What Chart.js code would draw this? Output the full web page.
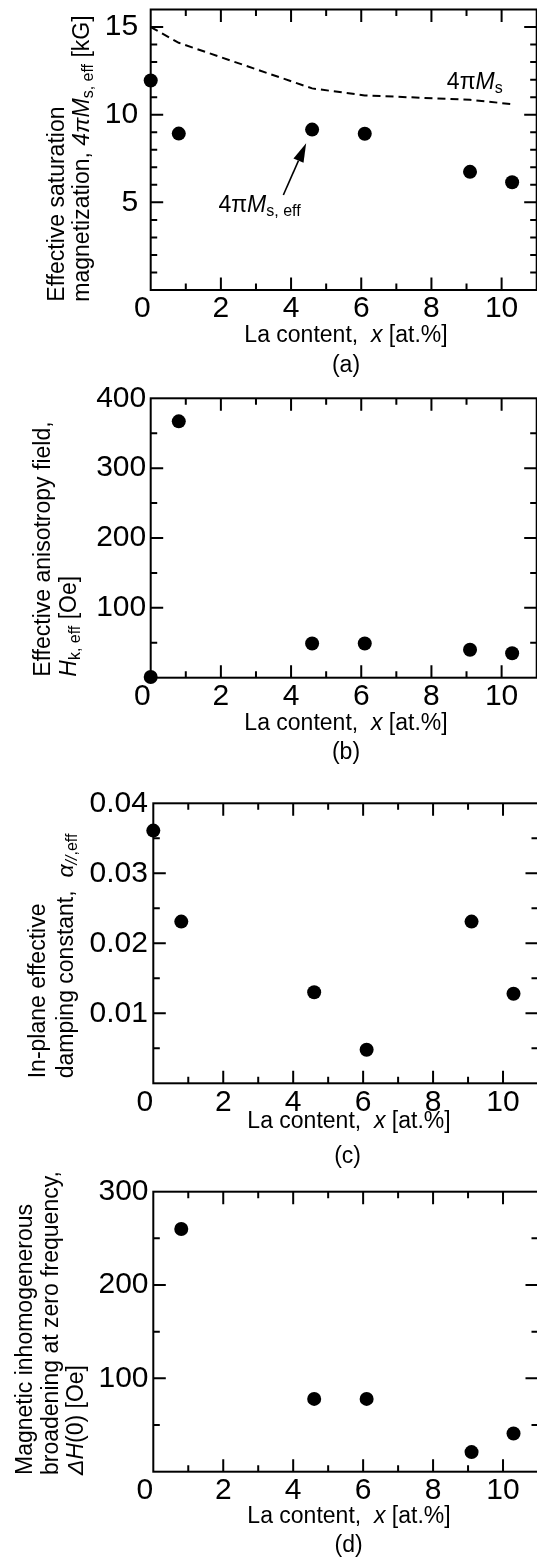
<!DOCTYPE html>
<html>
<head>
<meta charset="utf-8">
<script src="https://cdn.jsdelivr.net/npm/chart.js@4.4.1/dist/chart.umd.min.js"></script>
<style>
html, body { margin: 0; padding: 0; background: #fff; overflow: hidden; }
#page { position: relative; width: 537px; height: 1559px; overflow: hidden; background: #fff; }
canvas { position: absolute; left: 0; }
</style>
</head>
<body>
<div id="page">
<canvas id="chartA" width="545" height="420" style="top:-30px;width:545px;height:420px"></canvas>
<canvas id="chartB" width="545" height="420" style="top:360px;width:545px;height:420px"></canvas>
<canvas id="chartC" width="545" height="405" style="top:765px;width:545px;height:405px"></canvas>
<canvas id="chartD" width="545" height="409" style="top:1150px;width:545px;height:409px"></canvas>
</div>
<script>
const FAM = '"Liberation Sans", Arial, Helvetica, sans-serif';

// La content x [at.%]
const laContent = [0, 0.8, 4.6, 6.1, 9.1, 10.3];
const laContentD = [0.8, 4.6, 6.1, 9.1, 10.3];

// (a) effective saturation magnetization [kG] and 4piMs (dashed)
const msEff = [11.95, 8.92, 9.15, 8.91, 6.74, 6.15];
const msBulk = [15.0, 14.1, 11.5, 11.1, 10.85, 10.6];

// (b) effective anisotropy field [Oe]
const hkEff = [1, 367, 49, 49, 40, 35];

// (c) in-plane effective damping constant
const alphaEff = [0.0361, 0.0231, 0.0130, 0.0048, 0.0231, 0.0128];

// (d) inhomogeneous broadening dH(0) [Oe]
const dH0 = [260, 78, 78, 21, 41];

// tick labels
const xTicks = [0, 2, 4, 6, 8, 10];
const yTicksA = [5, 10, 15];
const yTicksB = [100, 200, 300, 400];
const yTicksC = [0.01, 0.02, 0.03, 0.04];
const yTicksD = [100, 200, 300];

function pts(xs, ys) {
    return xs.map((x, i) => ({x: x, y: ys[i]}));
}

function drawRich(ctx, segs, x, y, size, align) {
    let total = 0;
    const parts = segs.map(s => {
        const fs = s.s ? Math.round(size * 0.68) : size;
        const font = (s.i ? 'italic ' : '') + fs + 'px ' + FAM;
        ctx.font = font;
        const w = ctx.measureText(s.t).width;
        total += w;
        return {s: s, font: font, w: w};
    });
    let cx = align === 'center' ? x - total / 2 : x;
    ctx.textAlign = 'left';
    ctx.textBaseline = 'alphabetic';
    parts.forEach(p => {
        ctx.font = p.font;
        ctx.fillText(p.s.t, cx, y + (p.s.s ? size * 0.18 : 0));
        cx += p.w;
    });
}

function isMajor(v, major) {
    const r = v / major;
    return Math.abs(r - Math.round(r)) < 1e-6;
}

const decor = {
    id: 'decor',
    beforeDatasetsDraw(chart, args, o) {
        const {ctx, chartArea: a} = chart;
        const xs = chart.scales.x, ys = chart.scales.y;
        ctx.save();
        ctx.strokeStyle = '#000';
        ctx.lineWidth = 2;
        ctx.strokeRect(a.left, a.top, a.right - a.left, a.bottom - a.top);
        ctx.beginPath();
        for (let k = 1; xs.min + k * o.xMinor < xs.max - 1e-9; k++) {
            const v = xs.min + k * o.xMinor;
            const len = isMajor(v, o.xMajor) ? 12.5 : 6.5;
            const px = xs.getPixelForValue(v);
            ctx.moveTo(px, a.bottom); ctx.lineTo(px, a.bottom - len);
            ctx.moveTo(px, a.top); ctx.lineTo(px, a.top + len);
        }
        for (let k = 1; ys.min + k * o.yMinor < ys.max - 1e-9; k++) {
            const v = ys.min + k * o.yMinor;
            const len = isMajor(v, o.yMajor) ? 12.5 : 6.5;
            const py = ys.getPixelForValue(v);
            ctx.moveTo(a.left, py); ctx.lineTo(a.left + len, py);
            ctx.moveTo(a.right, py); ctx.lineTo(a.right - len, py);
        }
        ctx.stroke();
        ctx.restore();
    },
    afterDraw(chart, args, o) {
        const {ctx, chartArea: a} = chart;
        const xs = chart.scales.x, ys = chart.scales.y;
        ctx.save();
        ctx.fillStyle = '#000';
        // x axis title and panel letter
        drawRich(ctx, [{t: 'La content,  '}, {t: 'x', i: 1}, {t: ' [at.%]'}], o.xTitleX, a.bottom + o.xTitleDy, 23, 'center');
        drawRich(ctx, [{t: o.panel}], o.panelX, a.bottom + o.panelDy, 23, 'center');
        // y axis title, rotated
        o.yTitle.forEach((line, i) => {
            ctx.save();
            ctx.translate(o.yTitleX[i], a.bottom + o.yTitleDy);
            ctx.rotate(-Math.PI / 2);
            drawRich(ctx, line, 0, 0, 23, 'left');
            ctx.restore();
        });
        // annotations
        (o.notes || []).forEach(n => {
            drawRich(ctx, n.segs, xs.getPixelForValue(n.at[0]), ys.getPixelForValue(n.at[1]), 23, 'left');
        });
        if (o.arrow) {
            const x0 = xs.getPixelForValue(o.arrow.from[0]), y0 = ys.getPixelForValue(o.arrow.from[1]);
            const x1 = xs.getPixelForValue(o.arrow.to[0]), y1 = ys.getPixelForValue(o.arrow.to[1]);
            const ang = Math.atan2(y1 - y0, x1 - x0);
            const hl = 19, hw = 5.5;
            const bx = x1 - hl * Math.cos(ang), by = y1 - hl * Math.sin(ang);
            ctx.strokeStyle = '#000';
            ctx.lineWidth = 1.6;
            ctx.beginPath();
            ctx.moveTo(x0, y0); ctx.lineTo(bx, by);
            ctx.stroke();
            ctx.beginPath();
            ctx.moveTo(x1, y1);
            ctx.lineTo(bx + hw * Math.sin(ang), by - hw * Math.cos(ang));
            ctx.lineTo(bx - hw * Math.sin(ang), by + hw * Math.cos(ang));
            ctx.closePath();
            ctx.fill();
        }
        ctx.restore();
    }
};

function pointSet(data) {
    return {
        data: data,
        pointRadius: 7,
        pointBackgroundColor: '#000',
        pointBorderWidth: 0,
        showLine: false,
        clip: false
    };
}

function makePanel(id, p) {
    const canvas = document.getElementById(id);
    return new Chart(canvas.getContext('2d'), {
        type: 'scatter',
        data: {datasets: p.datasets},
        plugins: [decor],
        options: {
            responsive: false,
            animation: false,
            events: [],
            layout: {padding: {top: p.padTop, left: 0, right: p.padRight, bottom: 0}},
            plugins: {
                legend: {display: false},
                tooltip: {enabled: false},
                decor: p.decor
            },
            scales: {
                x: {
                    type: 'linear',
                    min: 0,
                    max: 11,
                    grid: {display: false, drawTicks: false},
                    border: {display: false},
                    afterBuildTicks: s => { s.ticks = xTicks.map(v => ({value: v})); },
                    afterFit: s => { s.height = p.xHeight; },
                    ticks: {
                        autoSkip: false,
                        maxRotation: 0,
                        padding: 1,
                        color: '#000',
                        font: {family: FAM, size: 30},
                        callback: v => v === 0 ? '0  ' : String(v)
                    }
                },
                y: {
                    type: 'linear',
                    min: 0,
                    max: p.yMax,
                    grid: {display: false, drawTicks: false},
                    border: {display: false},
                    afterBuildTicks: s => { s.ticks = p.yTicks.map(v => ({value: v})); },
                    afterFit: s => { s.width = p.yWidth; },
                    ticks: {
                        autoSkip: false,
                        padding: p.yPad,
                        color: '#000',
                        font: {family: FAM, size: 30},
                        callback: p.yFmt || (v => String(v))
                    }
                }
            }
        }
    });
}

// (a)
makePanel('chartA', {
    datasets: [
        pointSet(pts(laContent, msEff)),
        {
            data: pts(laContent, msBulk),
            showLine: true,
            pointRadius: 0,
            borderColor: '#000',
            borderWidth: 2,
            borderDash: [8, 5],
            tension: 0,
            clip: false
        }
    ],
    padTop: 39.5, padRight: 8.3, xHeight: 100, yWidth: 150.7,
    yMax: 16, yTicks: yTicksA, yPad: 12.5,
    decor: {
        xMinor: 1, xMajor: 2, yMinor: 1, yMajor: 5,
        xTitleX: 346, xTitleDy: 51.7, panel: '(a)', panelX: 346, panelDy: 82,
        yTitleX: [64, 89], yTitleDy: 11.7,
        yTitle: [
            [{t: 'Effective saturation'}],
            [{t: 'magnetization, '}, {t: '4\u03C0M', i: 1}, {t: 's, eff', s: 1}, {t: ' [kG]'}]
        ],
        notes: [
            {segs: [{t: '4\u03C0'}, {t: 'M', i: 1}, {t: 's', s: 1}], at: [8.44, 11.45]},
            {segs: [{t: '4\u03C0'}, {t: 'M', i: 1}, {t: 's, eff', s: 1}], at: [1.93, 4.47]}
        ],
        arrow: {from: [3.78, 5.42], to: [4.43, 8.37]}
    }
});

// (b)
makePanel('chartB', {
    datasets: [pointSet(pts(laContent, hkEff))],
    padTop: 38.3, padRight: 8.3, xHeight: 102.3, yWidth: 150.7,
    yMax: 400, yTicks: yTicksB, yPad: 4.5,
    decor: {
        xMinor: 1, xMajor: 2, yMinor: 50, yMajor: 100,
        xTitleX: 346, xTitleDy: 52.3, panel: '(b)', panelX: 346, panelDy: 81,
        yTitleX: [50, 76], yTitleDy: -1,
        yTitle: [
            [{t: 'Effective anisotropy field,'}],
            [{t: 'H', i: 1}, {t: 'k, eff', s: 1}, {t: ' [Oe]'}]
        ]
    }
});

// (c)
makePanel('chartC', {
    datasets: [pointSet(pts(laContent, alphaEff))],
    padTop: 38.3, padRight: 4, xHeight: 86.7, yWidth: 153.3,
    yMax: 0.04, yTicks: yTicksC, yPad: 5.4,
    yFmt: v => v.toFixed(2),
    decor: {
        xMinor: 1, xMajor: 2, yMinor: 0.005, yMajor: 0.01,
        xTitleX: 349, xTitleDy: 45, panel: '(c)', panelX: 347.6, panelDy: 80,
        yTitleX: [45, 73], yTitleDy: -5,
        yTitle: [
            [{t: 'In-plane effective'}],
            [{t: 'damping constant,  '}, {t: '\u03B1', i: 1}, {t: '//', s: 1, i: 1}, {t: ',eff', s: 1}]
        ]
    }
});

// (d)
makePanel('chartD', {
    datasets: [pointSet(pts(laContentD, dH0))],
    padTop: 41.7, padRight: 4, xHeight: 87.3, yWidth: 153.3,
    yMax: 300, yTicks: yTicksD, yPad: 4.8,
    decor: {
        xMinor: 1, xMajor: 2, yMinor: 50, yMajor: 100,
        xTitleX: 349, xTitleDy: 51.7, panel: '(d)', panelX: 348.6, panelDy: 80,
        yTitleX: [31.5, 57.5, 83], yTitleDy: 3.3,
        yTitle: [
            [{t: 'Magnetic inhomogenerous'}],
            [{t: 'broadening at zero frequency,'}],
            [{t: '\u0394H', i: 1}, {t: '(0) [Oe]'}]
        ]
    }
});
</script>
</body>
</html>
